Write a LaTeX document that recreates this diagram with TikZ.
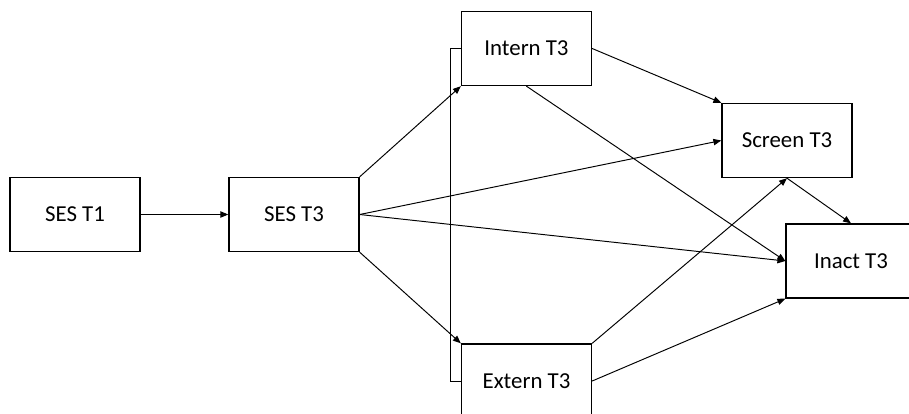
\documentclass[tikz,border=0pt]{standalone}
\usepackage{fontspec}
\setmainfont{Carlito}
\usetikzlibrary{arrows.meta}

\begin{document}
\begin{tikzpicture}[x=0.02cm, y=-0.02cm, >={Triangle[length=4.5pt,width=3.6pt]}, line cap=round,
	box/.style={draw, line width=0.8pt, minimum width=2.6cm, minimum height=1.48cm,
		inner sep=0pt, font=\fontsize{13}{15}\selectfont},
	path/.style={->, line width=0.55pt}]
	% -------- Canvas --------
	\useasboundingbox (0,0) rectangle (909,413);
	\clip (0,0) rectangle (909,413);
	
	% -------- Variables --------
	\node[box] (sest1)  at (75,214.5)  {SES T1};
	\node[box] (sest3)  at (294,214.5) {SES T3};
	\node[box] (intern) at (526.5,48.5) {Intern T3};
	\node[box] (extern) at (526.5,381) {Extern T3};
	\node[box] (screen) at (787,140.5) {Screen T3};
	\node[box] (inact)  at (851,261)   {Inact T3};
	
	% -------- Paths --------
	\draw[path] (sest1.east) -- (sest3.west);
	\draw[path] (sest3.north east) -- (intern.south west);
	\draw[path] (sest3.south east) -- (extern.north west);
	\draw[path] (sest3.east) -- (screen.west);
	\draw[path] (sest3.east) -- (inact.west);
	\draw[path] (intern.east) -- (screen.north west);
	\draw[path] (intern.south) -- (inact.west);
	\draw[path] (extern.north east) -- (screen.south);
	\draw[path] (extern.east) -- (inact.south west);
	\draw[path] (screen.south) -- (inact.north);
	
	% Residual covariance (no heads)
	\draw[line width=0.55pt] (intern.west) -- ++(-10,0) |- (extern.west);
	
\end{tikzpicture}
\end{document}
